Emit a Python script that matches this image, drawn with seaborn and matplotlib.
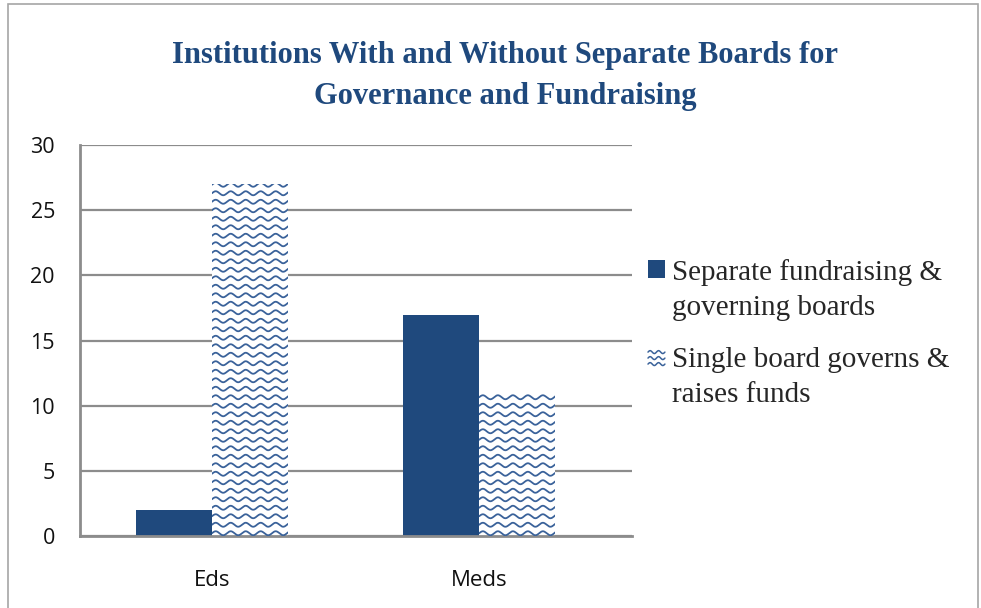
import numpy as np
import pandas as pd
import seaborn as sns
import matplotlib.pyplot as plt
from matplotlib.lines import Line2D
from matplotlib.patches import Rectangle
from matplotlib.legend_handler import HandlerBase
from matplotlib.transforms import IdentityTransform

# chart values
categories = ['Eds', 'Meds']
series = ['Separate fundraising &\ngoverning boards', 'Single board governs &\nraises funds']
separate_vals = [2, 17]
single_vals = [27, 11]
yticks = [0, 5, 10, 15, 20, 25, 30]

navy = '#1F497D'
wave_col = '#3A629A'

df = pd.DataFrame({
    'Institution': categories * 2,
    'Board': [series[0]] * 2 + [series[1]] * 2,
    'Count': separate_vals + single_vals,
})

sns.set_style('white')
fig = plt.figure(figsize=(9.81, 6.08), dpi=100)
ax = fig.add_axes([0.0815, 0.118, 0.563, 0.6435])

sns.barplot(data=df, x='Institution', y='Count', hue='Board', order=categories,
            hue_order=series, palette=[navy, 'white'], width=0.57, gap=0,
            saturation=1, ax=ax, legend=False)

for p in ax.patches:
    p.set_edgecolor('none')
    p.set_linewidth(0)

ax.set_ylim(0, 30)
ax.set_yticks(yticks)
ax.set_xlim(-0.494, 1.573)
ax.grid(axis='y', color='#8C8C8C', lw=1.6)
ax.set_axisbelow(True)
for s in ['top', 'right']:
    ax.spines[s].set_visible(False)
for s in ['left', 'bottom']:
    ax.spines[s].set_color('#8C8C8C')
    ax.spines[s].set_linewidth(2)
ax.tick_params(axis='y', length=0, labelsize=15.5, colors='#111111', pad=18)
ax.tick_params(axis='x', length=0, labelsize=16, colors='#111111', pad=24)
for lab in ax.get_xticklabels() + ax.get_yticklabels():
    lab.set_family('Open Sans')
ax.set_xlabel('')
ax.set_ylabel('')

# wavy fill for the single-board bars
fig.canvas.draw()
single_bars = ax.patches[len(categories):2 * len(categories)]


def waves(x0, x1, y0, y1, step=8.5, wl=15.0, amp=2.0):
    xs = np.linspace(x0, x1, 200)
    out = []
    y = y0 + 3
    while y < y1 + amp:
        out.append((xs, y + amp * np.sin(2 * np.pi * (xs - x0) / wl)))
        y += step
    return out


for p in single_bars:
    bb = p.get_window_extent()
    for xs, ys in waves(bb.x0, bb.x1, bb.y0, bb.y1):
        ln = Line2D(xs, ys, transform=IdentityTransform(), color=wave_col, lw=1.3)
        ln.set_clip_path(p)
        fig.add_artist(ln)

# handles sit level with the first line of each two-line label
LIFT = 15.5


class SquareHandler(HandlerBase):
    def create_artists(self, legend, orig_handle, xdescent, ydescent, width, height, fontsize, trans):
        r = Rectangle((0, LIFT), width, height, facecolor=navy, edgecolor='none', transform=trans)
        return [r]


class WaveHandler(HandlerBase):
    def create_artists(self, legend, orig_handle, xdescent, ydescent, width, height, fontsize, trans):
        arts = []
        xs = np.linspace(0, width, 30)
        for k in range(3):
            yc = LIFT + height * (0.1 + 0.33 * k)
            ys = yc + height * 0.08 * np.sin(2 * np.pi * xs / (width / 2))
            arts.append(Line2D(xs, ys, color=wave_col, lw=1.1, transform=trans))
        return arts


h1 = Rectangle((0, 0), 1, 1)
h2 = Line2D([], [])
leg = fig.legend([h1, h2], series, loc='upper left', bbox_to_anchor=(648 / 981, 1 - 259 / 608),
                 frameon=False, handler_map={Rectangle: SquareHandler(), Line2D: WaveHandler()},
                 prop={'family': 'Liberation Serif', 'size': 21},
                 handlelength=0.58, handleheight=0.58, handletextpad=0.25,
                 labelspacing=0.9, borderpad=0, borderaxespad=0)
for t in leg.get_texts():
    t.set_linespacing(1.44)

fig.suptitle('Institutions With and Without Separate Boards for\nGovernance and Fundraising',
             x=0.515, y=1 - 41 / 608, fontsize=22, fontweight='bold', color=navy,
             family='Liberation Serif', linespacing=1.56)

# chart frame
fig.patches.append(Rectangle((8 / 981, -0.02), 970 / 981, 1.0 - 4 / 608 + 0.02,
                             transform=fig.transFigure, fill=False,
                             edgecolor='#A6A6A6', lw=1.2))

fig.savefig('out.png', dpi=100)
